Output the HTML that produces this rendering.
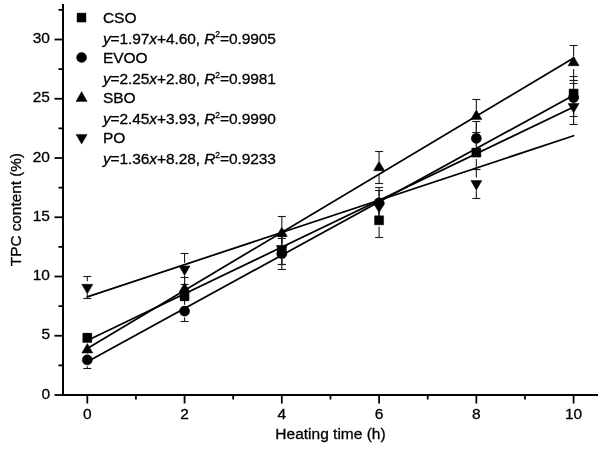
<!DOCTYPE html><html><head><meta charset="utf-8"><style>html,body{margin:0;padding:0;background:#fff;}svg{display:block;font-family:"Liberation Sans",sans-serif;filter:grayscale(1);}text{stroke:#000;stroke-width:0.3px;}</style></head><body>
<svg width="615" height="455" viewBox="0 0 615 455">
<rect width="615" height="455" fill="#fff"/>
<g stroke="#000" stroke-width="2" fill="none">
<line x1="63" y1="4" x2="63" y2="396"/>
<line x1="62" y1="395" x2="598" y2="395"/>
</g><g stroke="#000" stroke-width="1.8" fill="none">
<line x1="54.5" y1="395.00" x2="63" y2="395.00"/>
<line x1="54.5" y1="335.75" x2="63" y2="335.75"/>
<line x1="54.5" y1="276.50" x2="63" y2="276.50"/>
<line x1="54.5" y1="217.25" x2="63" y2="217.25"/>
<line x1="54.5" y1="158.00" x2="63" y2="158.00"/>
<line x1="54.5" y1="98.75" x2="63" y2="98.75"/>
<line x1="54.5" y1="39.50" x2="63" y2="39.50"/>
<line x1="58.5" y1="365.38" x2="63" y2="365.38"/>
<line x1="58.5" y1="306.12" x2="63" y2="306.12"/>
<line x1="58.5" y1="246.88" x2="63" y2="246.88"/>
<line x1="58.5" y1="187.62" x2="63" y2="187.62"/>
<line x1="58.5" y1="128.38" x2="63" y2="128.38"/>
<line x1="58.5" y1="69.12" x2="63" y2="69.12"/>
<line x1="58.5" y1="9.88" x2="63" y2="9.88"/>
<line x1="87.30" y1="395" x2="87.30" y2="403.5"/>
<line x1="184.56" y1="395" x2="184.56" y2="403.5"/>
<line x1="281.82" y1="395" x2="281.82" y2="403.5"/>
<line x1="379.08" y1="395" x2="379.08" y2="403.5"/>
<line x1="476.34" y1="395" x2="476.34" y2="403.5"/>
<line x1="573.60" y1="395" x2="573.60" y2="403.5"/>
<line x1="135.93" y1="395" x2="135.93" y2="399.5"/>
<line x1="233.19" y1="395" x2="233.19" y2="399.5"/>
<line x1="330.45" y1="395" x2="330.45" y2="399.5"/>
<line x1="427.71" y1="395" x2="427.71" y2="399.5"/>
<line x1="524.97" y1="395" x2="524.97" y2="399.5"/>
</g>
<g font-size="15.5" fill="#000" text-anchor="end">
<text x="50" y="398.60">0</text>
<text x="50" y="339.35">5</text>
<text x="50" y="280.10">10</text>
<text x="50" y="220.85">15</text>
<text x="50" y="161.60">20</text>
<text x="50" y="102.35">25</text>
<text x="50" y="43.10">30</text>
</g>
<g font-size="15.5" fill="#000" text-anchor="middle">
<text x="87.30" y="419.1">0</text>
<text x="184.56" y="419.1">2</text>
<text x="281.82" y="419.1">4</text>
<text x="379.08" y="419.1">6</text>
<text x="476.34" y="419.1">8</text>
<text x="573.60" y="419.1">10</text>
</g>
<text font-size="15.5" x="330.5" y="438.7" text-anchor="middle">Heating time (h)</text>
<text font-size="15.3" transform="translate(21.2,209.6) rotate(-90)" text-anchor="middle">TPC content (%)</text>
<g stroke="#000" stroke-width="1.75" stroke-linecap="round" fill="none">
<line x1="87.30" y1="340.49" x2="573.60" y2="107.05"/>
<line x1="87.30" y1="361.82" x2="573.60" y2="95.19"/>
<line x1="87.30" y1="348.43" x2="573.60" y2="58.10"/>
<line x1="87.30" y1="296.88" x2="573.60" y2="135.72"/>
</g>
<g stroke="#1a1a1a" stroke-width="1.1" fill="none">
<line x1="83.30" y1="333.50" x2="91.30" y2="333.50"/>
<line x1="83.30" y1="341.50" x2="91.30" y2="341.50"/>
<line x1="180.56" y1="290.50" x2="188.56" y2="290.50"/>
<line x1="180.56" y1="300.50" x2="188.56" y2="300.50"/>
<line x1="281.82" y1="236.60" x2="281.82" y2="244.25"/>
<line x1="281.82" y1="256.95" x2="281.82" y2="264.60"/>
<line x1="277.82" y1="236.50" x2="285.82" y2="236.50"/>
<line x1="277.82" y1="264.50" x2="285.82" y2="264.50"/>
<line x1="379.08" y1="203.30" x2="379.08" y2="213.95"/>
<line x1="379.08" y1="226.65" x2="379.08" y2="237.30"/>
<line x1="375.08" y1="203.50" x2="383.08" y2="203.50"/>
<line x1="375.08" y1="237.50" x2="383.08" y2="237.50"/>
<line x1="476.34" y1="135.60" x2="476.34" y2="146.25"/>
<line x1="476.34" y1="158.95" x2="476.34" y2="169.60"/>
<line x1="472.34" y1="135.50" x2="480.34" y2="135.50"/>
<line x1="472.34" y1="169.50" x2="480.34" y2="169.50"/>
<line x1="573.60" y1="83.20" x2="573.60" y2="87.25"/>
<line x1="573.60" y1="99.95" x2="573.60" y2="104.00"/>
<line x1="569.60" y1="83.50" x2="577.60" y2="83.50"/>
<line x1="569.60" y1="104.50" x2="577.60" y2="104.50"/>
<line x1="87.30" y1="351.40" x2="87.30" y2="353.55"/>
<line x1="87.30" y1="366.25" x2="87.30" y2="368.40"/>
<line x1="83.30" y1="351.50" x2="91.30" y2="351.50"/>
<line x1="83.30" y1="368.50" x2="91.30" y2="368.50"/>
<line x1="184.56" y1="300.80" x2="184.56" y2="304.75"/>
<line x1="184.56" y1="317.45" x2="184.56" y2="321.40"/>
<line x1="180.56" y1="300.50" x2="188.56" y2="300.50"/>
<line x1="180.56" y1="321.50" x2="188.56" y2="321.50"/>
<line x1="281.82" y1="238.10" x2="281.82" y2="247.45"/>
<line x1="281.82" y1="260.15" x2="281.82" y2="269.50"/>
<line x1="277.82" y1="238.50" x2="285.82" y2="238.50"/>
<line x1="277.82" y1="269.50" x2="285.82" y2="269.50"/>
<line x1="379.08" y1="187.55" x2="379.08" y2="196.40"/>
<line x1="379.08" y1="209.10" x2="379.08" y2="217.95"/>
<line x1="375.08" y1="187.50" x2="383.08" y2="187.50"/>
<line x1="375.08" y1="217.50" x2="383.08" y2="217.50"/>
<line x1="476.34" y1="121.40" x2="476.34" y2="132.00"/>
<line x1="476.34" y1="144.70" x2="476.34" y2="155.30"/>
<line x1="472.34" y1="121.50" x2="480.34" y2="121.50"/>
<line x1="472.34" y1="155.50" x2="480.34" y2="155.50"/>
<line x1="573.60" y1="80.00" x2="573.60" y2="91.25"/>
<line x1="573.60" y1="103.95" x2="573.60" y2="116.40"/>
<line x1="569.60" y1="80.50" x2="577.60" y2="80.50"/>
<line x1="569.60" y1="116.50" x2="577.60" y2="116.50"/>
<line x1="184.56" y1="277.70" x2="184.56" y2="282.70"/>
<line x1="184.56" y1="295.40" x2="184.56" y2="300.40"/>
<line x1="180.56" y1="277.50" x2="188.56" y2="277.50"/>
<line x1="180.56" y1="300.50" x2="188.56" y2="300.50"/>
<line x1="281.82" y1="216.40" x2="281.82" y2="226.95"/>
<line x1="281.82" y1="239.65" x2="281.82" y2="250.20"/>
<line x1="277.82" y1="216.50" x2="285.82" y2="216.50"/>
<line x1="277.82" y1="250.50" x2="285.82" y2="250.50"/>
<line x1="379.08" y1="151.30" x2="379.08" y2="161.15"/>
<line x1="379.08" y1="173.85" x2="379.08" y2="183.70"/>
<line x1="375.08" y1="151.50" x2="383.08" y2="151.50"/>
<line x1="375.08" y1="183.50" x2="383.08" y2="183.50"/>
<line x1="476.34" y1="99.95" x2="476.34" y2="109.85"/>
<line x1="476.34" y1="122.55" x2="476.34" y2="132.45"/>
<line x1="472.34" y1="99.50" x2="480.34" y2="99.50"/>
<line x1="472.34" y1="132.50" x2="480.34" y2="132.50"/>
<line x1="573.60" y1="45.20" x2="573.60" y2="56.25"/>
<line x1="573.60" y1="68.95" x2="573.60" y2="80.00"/>
<line x1="569.60" y1="45.50" x2="577.60" y2="45.50"/>
<line x1="569.60" y1="80.50" x2="577.60" y2="80.50"/>
<line x1="87.30" y1="276.50" x2="87.30" y2="281.15"/>
<line x1="87.30" y1="293.85" x2="87.30" y2="298.50"/>
<line x1="83.30" y1="276.50" x2="91.30" y2="276.50"/>
<line x1="83.30" y1="298.50" x2="91.30" y2="298.50"/>
<line x1="184.56" y1="253.40" x2="184.56" y2="262.75"/>
<line x1="184.56" y1="275.45" x2="184.56" y2="284.80"/>
<line x1="180.56" y1="253.50" x2="188.56" y2="253.50"/>
<line x1="180.56" y1="284.50" x2="188.56" y2="284.50"/>
<line x1="281.82" y1="236.00" x2="281.82" y2="242.25"/>
<line x1="281.82" y1="254.95" x2="281.82" y2="264.30"/>
<line x1="277.82" y1="236.50" x2="285.82" y2="236.50"/>
<line x1="277.82" y1="264.50" x2="285.82" y2="264.50"/>
<line x1="379.08" y1="190.15" x2="379.08" y2="200.10"/>
<line x1="379.08" y1="212.80" x2="379.08" y2="222.75"/>
<line x1="375.08" y1="190.50" x2="383.08" y2="190.50"/>
<line x1="375.08" y1="222.50" x2="383.08" y2="222.50"/>
<line x1="476.34" y1="169.10" x2="476.34" y2="177.45"/>
<line x1="476.34" y1="190.15" x2="476.34" y2="198.50"/>
<line x1="472.34" y1="169.50" x2="480.34" y2="169.50"/>
<line x1="472.34" y1="198.50" x2="480.34" y2="198.50"/>
<line x1="573.60" y1="89.30" x2="573.60" y2="100.35"/>
<line x1="573.60" y1="113.05" x2="573.60" y2="124.10"/>
<line x1="569.60" y1="89.50" x2="577.60" y2="89.50"/>
<line x1="569.60" y1="124.50" x2="577.60" y2="124.50"/>
<line x1="569.60" y1="76.50" x2="577.60" y2="76.50"/>
</g>
<g fill="#000" stroke="#000" stroke-width="0.5" stroke-linejoin="round">
<circle cx="87.30" cy="359.90" r="5.05"/>
<circle cx="184.56" cy="311.10" r="5.05"/>
<circle cx="281.82" cy="253.80" r="5.05"/>
<circle cx="379.08" cy="202.75" r="5.05"/>
<circle cx="476.34" cy="138.35" r="5.05"/>
<circle cx="573.60" cy="97.60" r="5.05"/>
<rect x="82.80" y="333.40" width="9.0" height="9.0"/>
<rect x="180.06" y="291.30" width="9.0" height="9.0"/>
<rect x="277.32" y="246.10" width="9.0" height="9.0"/>
<rect x="374.58" y="215.80" width="9.0" height="9.0"/>
<rect x="471.84" y="148.10" width="9.0" height="9.0"/>
<rect x="569.10" y="89.10" width="9.0" height="9.0"/>
<polygon points="87.30,343.45 81.80,352.98 92.80,352.98"/>
<polygon points="184.56,282.70 179.06,292.23 190.06,292.23"/>
<polygon points="281.82,226.95 276.32,236.48 287.32,236.48"/>
<polygon points="379.08,161.15 373.58,170.68 384.58,170.68"/>
<polygon points="476.34,109.85 470.84,119.38 481.84,119.38"/>
<polygon points="573.60,56.25 568.10,65.78 579.10,65.78"/>
<polygon points="81.80,284.32 92.80,284.32 87.30,293.85"/>
<polygon points="179.06,265.93 190.06,265.93 184.56,275.45"/>
<polygon points="276.32,245.42 287.32,245.42 281.82,254.95"/>
<polygon points="373.58,203.27 384.58,203.27 379.08,212.80"/>
<polygon points="470.84,180.62 481.84,180.62 476.34,190.15"/>
<polygon points="568.10,103.53 579.10,103.53 573.60,113.05"/>
</g>
<g fill="#000" stroke="#000" stroke-width="0.4" stroke-linejoin="round">
<rect x="77.00" y="13.10" width="9" height="9"/>
<circle cx="81.60" cy="57.55" r="5.05"/>
<polygon points="81.60,91.5 76.00,101.4 87.20,101.4"/>
<polygon points="76.00,134.4 87.20,134.4 81.60,144.1"/>
</g>
<g font-size="15.5" fill="#000">
<text x="102.9" y="22.95">CSO</text>
<text x="102.9" y="43.65" letter-spacing="-0.09"><tspan font-style="italic">y</tspan>=1.97<tspan font-style="italic">x</tspan>+4.60, <tspan font-style="italic">R</tspan><tspan font-size="8.5" dy="-6.2">2</tspan><tspan dy="6.2">=</tspan>0.9905</text>
<text x="102.9" y="62.87">EVOO</text>
<text x="102.9" y="83.70" letter-spacing="-0.09"><tspan font-style="italic">y</tspan>=2.25<tspan font-style="italic">x</tspan>+2.80, <tspan font-style="italic">R</tspan><tspan font-size="8.5" dy="-6.2">2</tspan><tspan dy="6.2">=</tspan>0.9981</text>
<text x="102.9" y="102.79">SBO</text>
<text x="102.9" y="123.75" letter-spacing="-0.09"><tspan font-style="italic">y</tspan>=2.45<tspan font-style="italic">x</tspan>+3.93, <tspan font-style="italic">R</tspan><tspan font-size="8.5" dy="-6.2">2</tspan><tspan dy="6.2">=</tspan>0.9990</text>
<text x="102.9" y="142.71">PO</text>
<text x="102.9" y="163.80" letter-spacing="-0.09"><tspan font-style="italic">y</tspan>=1.36<tspan font-style="italic">x</tspan>+8.28, <tspan font-style="italic">R</tspan><tspan font-size="8.5" dy="-6.2">2</tspan><tspan dy="6.2">=</tspan>0.9233</text>
</g>
</svg></body></html>
